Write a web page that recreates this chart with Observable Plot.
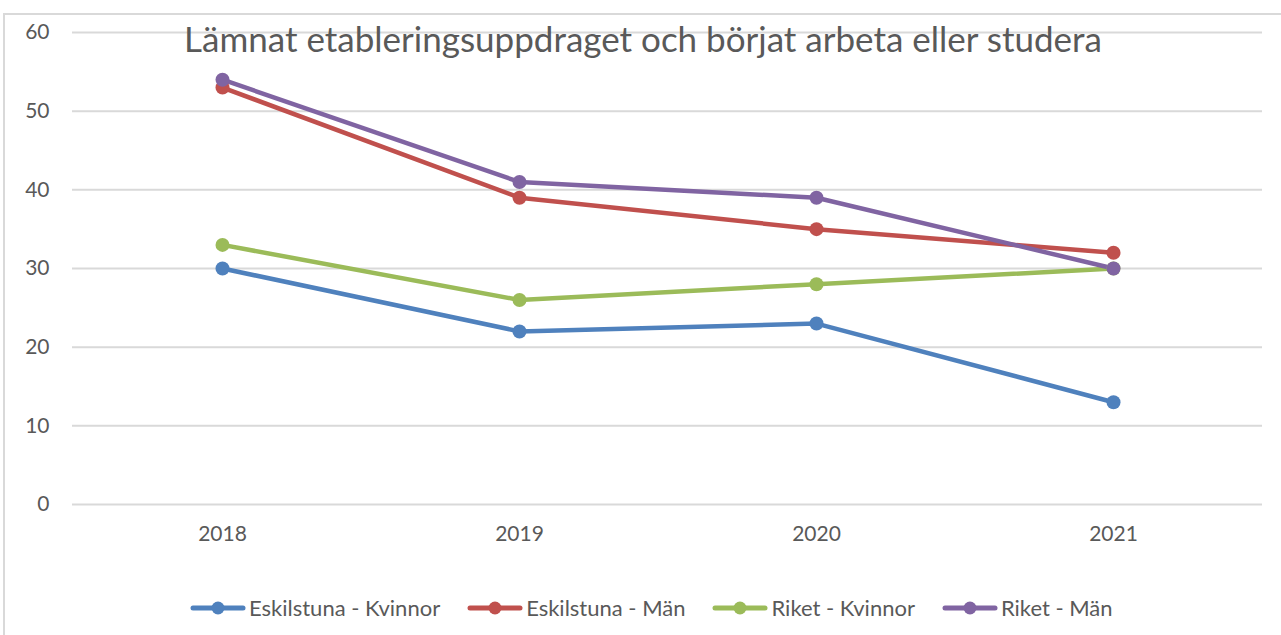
<!DOCTYPE html>
<html>
<head>
<meta charset="utf-8">
<script src="https://cdn.jsdelivr.net/npm/d3@7"></script>
<script src="https://cdn.jsdelivr.net/npm/@observablehq/plot@0.6"></script>
<style>
  html, body { margin: 0; padding: 0; background: #fff; overflow: hidden; }
  #wrap { position: relative; width: 1281px; height: 635px; overflow: hidden; font-family: Lato, "Liberation Sans", sans-serif; color: #595959; }
  #frame { position: absolute; left: 3px; top: 13px; width: 1290px; height: 700px; border-left: 2px solid #d9d9d9; border-top: 2px solid #d9d9d9; }
  #plot { position: absolute; left: 0; top: 0; }
  #title { position: absolute; left: 0; width: 1286px; top: 17px; text-align: center; font-size: 35px; line-height: 42px; color: #595959; pointer-events: none; }
  #legend { position: absolute; left: 190px; top: 594px; display: flex; gap: 27px; font-size: 22px; line-height: 28px; white-space: nowrap; }
  #legend .item { display: flex; align-items: center; gap: 3px; }
</style>
</head>
<body>
<div id="wrap">
  <div id="frame"></div>
  <div id="plot"></div>
  <div id="title"></div>
  <div id="legend"></div>
</div>
<script>
const titleText = "Lämnat etableringsuppdraget och börjat arbeta eller studera";
const years = ["2018", "2019", "2020", "2021"];
const seriesNames = ["Eskilstuna - Kvinnor", "Eskilstuna - Män", "Riket - Kvinnor", "Riket - Män"];
const seriesColors = ["#4F81BD", "#C0504D", "#9BBB59", "#8064A2"];
const eskilstunaKvinnor = [30, 22, 23, 13];
const eskilstunaMan = [53, 39, 35, 32];
const riketKvinnor = [33, 26, 28, 30];
const riketMan = [54, 41, 39, 30];
const yTicks = [0, 10, 20, 30, 40, 50, 60];

const seriesValues = [eskilstunaKvinnor, eskilstunaMan, riketKvinnor, riketMan];
const data = [];
seriesNames.forEach((name, i) => {
  years.forEach((yr, j) => data.push({series: name, year: yr, value: seriesValues[i][j]}));
});

const chart = Plot.plot({
  width: 1281,
  height: 560,
  marginTop: 32,
  marginBottom: 56,
  marginLeft: 72,
  marginRight: 19,
  style: {fontFamily: "Lato, 'Liberation Sans', sans-serif", color: "#595959", background: "transparent"},
  x: {type: "point", domain: years, padding: 0.5, label: null},
  y: {domain: [0, 60], label: null},
  color: {domain: seriesNames, range: seriesColors},
  marks: [
    Plot.gridY(yTicks, {stroke: "#d9d9d9", strokeOpacity: 1, strokeWidth: 2}),
    Plot.axisY({ticks: yTicks, tickSize: 0, tickPadding: 23, fontSize: 21, fill: "#595959", label: null}),
    Plot.axisX({tickSize: 0, tickPadding: 22, fontSize: 21, fill: "#595959", label: null}),
    Plot.line(data, {x: "year", y: "value", stroke: "series", z: "series", strokeWidth: 4.5, strokeLinejoin: "round"}),
    Plot.dot(data, {x: "year", y: "value", fill: "series", r: 7})
  ]
});
document.getElementById("plot").appendChild(chart);
document.getElementById("title").textContent = titleText;

const legend = document.getElementById("legend");
seriesNames.forEach((name, i) => {
  const item = document.createElement("div");
  item.className = "item";
  const c = seriesColors[i];
  item.innerHTML = `<svg width="56" height="16"><line x1="3" y1="8" x2="53" y2="8" stroke="${c}" stroke-width="5" stroke-linecap="round"/><circle cx="28" cy="8" r="6.5" fill="${c}"/></svg><span>${name}</span>`;
  legend.appendChild(item);
});
</script>
</body>
</html>
